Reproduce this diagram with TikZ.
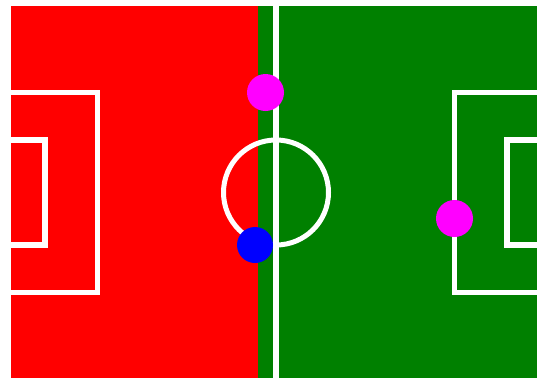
\documentclass[tikz,border=0pt]{standalone}
\begin{document}
\begin{tikzpicture}[x=1pt,y=-1pt,
  pitchline/.style={fill=white},
  circleline/.style={draw=white,line width=5pt},
  ball/.style={circle,inner sep=0pt,minimum size=37pt}]
\definecolor{pitchred}{RGB}{255,0,0}
\definecolor{pitchgreen}{RGB}{0,128,0}
\definecolor{ballmagenta}{RGB}{255,0,255}
\definecolor{ballblue}{RGB}{0,0,255}
\useasboundingbox (0,0) rectangle (537,378);
\fill[white] (0,0) rectangle (537,378);
% halves
\fill[pitchred] (11,6) rectangle (258,378);
\fill[pitchgreen] (258,6) rectangle (537,378);
% center line
\fill[pitchline] (273,6) rectangle (279,378);
% center circle
\draw[circleline] (276,192.5) circle[radius=52.5];
% left penalty area
\fill[pitchline] (11,90) rectangle (100,95);
\fill[pitchline] (95,90) rectangle (100,295);
\fill[pitchline] (11,290) rectangle (100,295);
% left goal area
\fill[pitchline] (11,137) rectangle (48,143);
\fill[pitchline] (42,137) rectangle (48,248);
\fill[pitchline] (11,242) rectangle (48,248);
% right penalty area
\fill[pitchline] (452,90) rectangle (537,95);
\fill[pitchline] (452,90) rectangle (457,295);
\fill[pitchline] (452,290) rectangle (537,295);
% right goal area
\fill[pitchline] (504,137) rectangle (537,143);
\fill[pitchline] (504,137) rectangle (510,248);
\fill[pitchline] (504,242) rectangle (537,248);
% balls
\node[ball,fill=ballmagenta] (b1) at (265.5,92.5) {};
\node[ball,fill=ballblue,minimum size=36pt] (b2) at (255,245) {};
\node[ball,fill=ballmagenta] (b3) at (454.5,218.5) {};
\end{tikzpicture}
\end{document}
